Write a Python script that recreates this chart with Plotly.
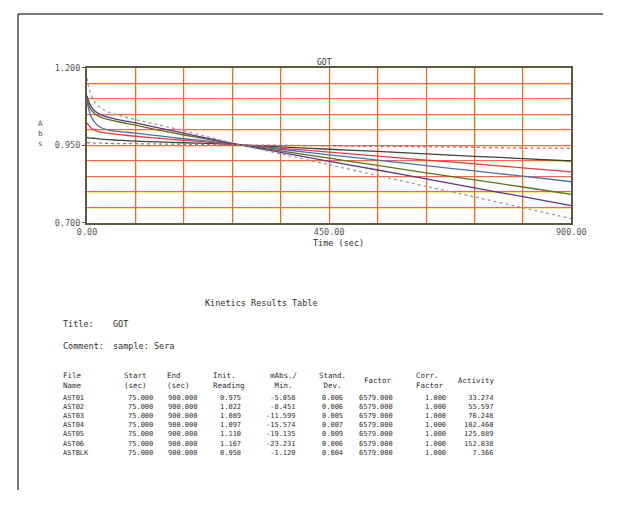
import numpy as np
import plotly.graph_objects as go

# The page body keeps its default 8px margin, so the figure is drawn
# inside it and every layout position is shifted by that margin.
PAGE_W, PAGE_H, BODY = 618, 515, 8
W, H = PAGE_W - BODY, PAGE_H - 2 * BODY - 12

# ---------------- data ----------------
time_sec = [0, 3, 8, 15, 25, 40, 60, 90, 135, 180, 225, 270, 300, 360, 450, 540, 630, 720, 810, 900]

ast01 = [0.975, 0.974, 0.973, 0.972, 0.970, 0.968, 0.966, 0.963, 0.961, 0.958, 0.956, 0.952, 0.950, 0.945, 0.937, 0.930, 0.922, 0.914, 0.907, 0.899]
ast02 = [1.022, 1.014, 1.005, 0.998, 0.992, 0.988, 0.984, 0.979, 0.972, 0.966, 0.960, 0.953, 0.949, 0.940, 0.928, 0.915, 0.902, 0.890, 0.877, 0.864]
ast03 = [1.089, 1.066, 1.042, 1.022, 1.008, 0.999, 0.994, 0.989, 0.980, 0.971, 0.963, 0.954, 0.948, 0.937, 0.919, 0.902, 0.884, 0.867, 0.850, 0.832]
ast04 = [1.097, 1.080, 1.063, 1.051, 1.041, 1.033, 1.025, 1.015, 0.998, 0.983, 0.969, 0.955, 0.947, 0.932, 0.908, 0.885, 0.861, 0.838, 0.815, 0.791]
ast05 = [1.110, 1.092, 1.074, 1.060, 1.049, 1.040, 1.032, 1.022, 1.005, 0.989, 0.972, 0.956, 0.946, 0.927, 0.898, 0.870, 0.841, 0.812, 0.784, 0.755]
ast06 = [1.167, 1.138, 1.110, 1.088, 1.071, 1.057, 1.046, 1.033, 1.015, 0.997, 0.977, 0.958, 0.945, 0.922, 0.887, 0.852, 0.817, 0.783, 0.748, 0.713]
astblk = [0.958, 0.958, 0.957, 0.957, 0.957, 0.956, 0.955, 0.955, 0.954, 0.953, 0.952, 0.951, 0.950, 0.950, 0.948, 0.946, 0.945, 0.943, 0.941, 0.940]

y_tick_vals = [0.7, 0.95, 1.2]
y_tick_text = ["0.700", "0.950", "1.200"]
x_tick_vals = [0, 450, 900]
x_tick_text = ["0.00", "450.00", "900.00"]

file_names = ["AST01", "AST02", "AST03", "AST04", "AST05", "AST06", "ASTBLK"]
start_sec = ["75.000"] * 7
end_sec = ["900.000"] * 7
init_reading = ["0.975", "1.022", "1.089", "1.097", "1.110", "1.167", "0.958"]
mabs_min = ["-5.058", "-8.451", "-11.599", "-15.574", "-19.135", "-23.231", "-1.120"]
stand_dev = ["0.006", "0.006", "0.005", "0.007", "0.009", "0.006", "0.004"]
factor = ["6579.000"] * 7
corr_factor = ["1.000"] * 7
activity = ["33.274", "55.597", "76.248", "102.460", "125.889", "152.838", "7.366"]

# ---------------- styling ----------------
MONO = "DejaVu Sans Mono"
TXT = "#2e2e2e"

series = [
    (ast01, "AST01", "#3c4436", "solid"),
    (ast02, "AST02", "#e23a4a", "solid"),
    (ast03, "AST03", "#4d6fa8", "solid"),
    (ast04, "AST04", "#5d6e22", "solid"),
    (ast05, "AST05", "#5e3584", "solid"),
    (ast06, "AST06", "#9a98aa", "dot"),
    (astblk, "ASTBLK", "#a8708a", "dot"),
]

def px(x, y):
    """page pixel -> paper coordinates"""
    return (x - BODY) / W, 1 - (y - BODY) / H

fig = go.Figure()
for vals, name, color, dash in series:
    fig.add_trace(go.Scatter(x=time_sec, y=vals, mode="lines", name=name,
                             line=dict(color=color, width=1.3, dash=dash, shape="spline", smoothing=0.6),
                             showlegend=False))

x0p, y0p = px(80, 222)
x1p, y1p = px(585, 64)

fig.update_layout(
    width=W, height=H,
    margin=dict(l=0, r=0, t=0, b=0),
    paper_bgcolor="white", plot_bgcolor="white",
    font=dict(family=MONO, size=8, color=TXT),
    xaxis=dict(domain=[x0p, x1p], range=[0, 900], tickvals=x_tick_vals, ticktext=x_tick_text,
               showline=True, mirror=True, linecolor="#5c5a3c", linewidth=2,
               showgrid=True, gridcolor="#f0605a", gridwidth=1,
               minor=dict(dtick=90, tick0=0, showgrid=True, gridcolor="#f0605a", gridwidth=1),
               ticks="", zeroline=False, tickfont=dict(family=MONO, size=8.5, color="#555")),
    yaxis=dict(domain=[y0p, y1p], range=[0.7, 1.2], tickvals=y_tick_vals, ticktext=y_tick_text,
               showline=True, mirror=True, linecolor="#5c5a3c", linewidth=2,
               showgrid=True, gridcolor="#f0607a", gridwidth=1,
               minor=dict(dtick=0.05, tick0=0.7, showgrid=True, gridcolor="#f0607a", gridwidth=1),
               ticks="outside", ticklen=3, tickcolor="#5c5a3c", zeroline=False,
               tickfont=dict(family=MONO, size=8.5, color="#555")),
)

# yellow companion lines (misregistered print colour) just beside the red grid
shapes = []
for yv in np.arange(0.75, 1.2, 0.05):
    shapes.append(dict(type="line", xref="x", yref="y", x0=0, x1=900, y0=yv - 0.0035, y1=yv - 0.0035,
                       line=dict(color="#f8de6a", width=1), layer="below"))
for xv in np.arange(90, 900, 90):
    shapes.append(dict(type="line", xref="x", yref="y", x0=xv + 1.8, x1=xv + 1.8, y0=0.7, y1=1.2,
                       line=dict(color="#f8de6a", width=1), layer="below"))
# page border (left and top edges of the printout)
bx, by = px(8, 9)
shapes.append(dict(type="line", xref="paper", yref="paper", x0=bx, x1=1.0, y0=by, y1=by,
                   line=dict(color="#4a4a4a", width=1.5)))
shapes.append(dict(type="line", xref="paper", yref="paper", x0=bx, x1=bx, y0=0, y1=by,
                   line=dict(color="#4a4a4a", width=1.5)))
fig.update_layout(shapes=shapes)

ann = []
def text(x, y, s, anchor="left", size=8.5, color=TXT, align="left"):
    ax, ay = px(x, y)
    ann.append(dict(x=ax, y=ay, xref="paper", yref="paper", text=s, showarrow=False,
                    xanchor=anchor, yanchor="middle", align=align, borderpad=0,
                    font=dict(family=MONO, size=size, color=color)))

text(328, 59, "GOT", "center", 8)
text(342, 243, "Time (sec)", "center", 8.5)
text(31, 131, "A<br>b<br>s", "center", 7.5, "#555", "center")

text(262, 304, "Kinetics Results Table", "center", 8.5)
text(54, 326, "Title:")
text(106, 326, "GOT")
text(54, 348, "Comment:")
text(106, 348, "sample: Sera")

# column headers (two lines each)
hdr_y = 383
headers = [
    (54, "File<br>Name"),
    (117, "Start<br>(sec)"),
    (162, "End<br>(sec)"),
    (210, "Init.<br>Reading"),
    (270, "mAbs./<br> Min."),
    (321, "Stand.<br> Dev."),
    (368, "<br>Factor"),
    (422, "Corr.<br>Factor"),
    (466, "<br>Activity"),
]
for x, s in headers:
    text(x, hdr_y, s, "left", 7.5, TXT, "left")

# table body: one block per column
body_y = 429
cols = [
    (54, "left", file_names),
    (150, "right", start_sec),
    (197, "right", end_sec),
    (242, "right", init_reading),
    (299, "right", mabs_min),
    (348, "right", stand_dev),
    (400, "right", factor),
    (455, "right", corr_factor),
    (505, "right", activity),
]
for x, anchor, col in cols:
    text(x, body_y, "<br>".join(col), anchor, 7, TXT, anchor)

fig.update_layout(annotations=ann)
fig.write_html("out.html")
